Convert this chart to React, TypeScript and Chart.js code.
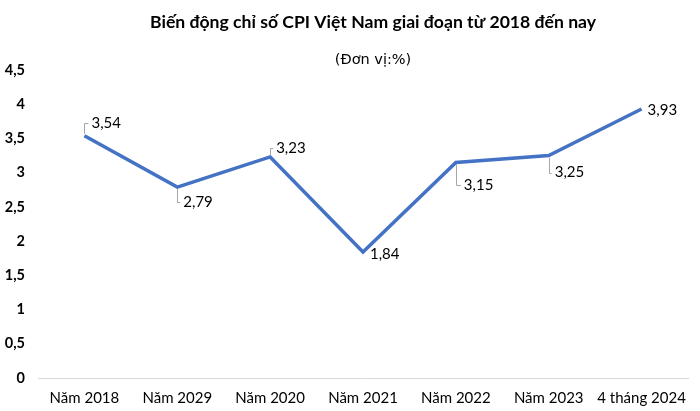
import React, { useEffect, useRef } from "react";
import { Chart, registerables } from "chart.js";

Chart.register(...registerables);

const categories = ["Năm 2018", "Năm 2029", "Năm 2020", "Năm 2021", "Năm 2022", "Năm 2023", "4 tháng 2024"];
const cpiValues = [3.54, 2.79, 3.23, 1.84, 3.15, 3.25, 3.93];
const titleText = "Biến động chỉ số CPI Việt Nam giai đoạn từ 2018 đến nay";
const subtitleText = "(Đơn vị:%)";

const labelOffsets: [number, number][] = [[7, -13], [6, 15], [6, -9], [7, 2], [8, 23], [6, 17], [6, 1]];
const labelLeaders = [true, true, true, false, true, true, false];

const FONT = "Lato, 'Open Sans', sans-serif";

const titlePlugin = {
  id: "customTitle",
  afterDraw(chart: any) {
    const { ctx, chartArea } = chart;
    const cx = (chartArea.left + chartArea.right) / 2 + 10;
    ctx.save();
    ctx.fillStyle = "#000";
    ctx.textAlign = "center";
    ctx.textBaseline = "middle";
    ctx.font = `bold 17.6px ${FONT}`;
    ctx.fillText(titleText, cx, 22);
    ctx.font = `14.5px 'DejaVu Sans', sans-serif`;
    ctx.fillText(subtitleText, cx, 60);
    ctx.restore();
  },
};

const labelPlugin = {
  id: "pointLabels",
  afterDatasetsDraw(chart: any) {
    const { ctx } = chart;
    const meta = chart.getDatasetMeta(0);
    ctx.save();
    ctx.font = `15px ${FONT}`;
    ctx.textBaseline = "middle";
    ctx.textAlign = "left";
    meta.data.forEach((pt: any, i: number) => {
      const [dx, dy] = labelOffsets[i];
      const x = pt.x;
      const y = pt.y;
      if (labelLeaders[i]) {
        const s = dy < 0 ? -1 : 1;
        ctx.strokeStyle = "#a6a6a6";
        ctx.lineWidth = 1;
        ctx.beginPath();
        ctx.moveTo(Math.round(x) + 0.5, y + s * 2);
        ctx.lineTo(Math.round(x) + 0.5, Math.round(y + dy) + 0.5);
        ctx.lineTo(x + dx - 3, Math.round(y + dy) + 0.5);
        ctx.stroke();
      }
      ctx.fillStyle = "#000";
      ctx.fillText(String(cpiValues[i]).replace(".", ","), x + dx, y + dy);
    });
    ctx.restore();
  },
};

export default function App() {
  const ref = useRef<HTMLCanvasElement | null>(null);
  useEffect(() => {
    if (!ref.current) return;
    const chart = new Chart(ref.current, {
      type: "line",
      data: {
        labels: categories,
        datasets: [
          {
            data: cpiValues,
            borderColor: "#4472C4",
            borderWidth: 3.5,
            pointRadius: 0,
            pointHoverRadius: 0,
            tension: 0,
            fill: false,
          },
        ],
      },
      options: {
        animation: false,
        responsive: false,
        events: [],
        layout: { padding: { top: 70, left: 0, right: 12, bottom: 0 } },
        plugins: {
          legend: { display: false },
          tooltip: { enabled: false },
          title: { display: false },
        },
        scales: {
          x: {
            offset: true,
            grid: { display: false, drawTicks: false },
            border: { display: true, color: "#d9d9d9", width: 1 },
            afterFit: (scale: any) => {
              scale.height = 33;
            },
            ticks: {
              color: "#000",
              font: { family: FONT, size: 15 },
              padding: 11,
              maxRotation: 0,
              autoSkip: false,
            },
          },
          y: {
            min: 0,
            max: 4.5,
            grid: { display: false, drawTicks: false },
            border: { display: false },
            afterFit: (scale: any) => {
              scale.width = 38;
            },
            ticks: {
              stepSize: 0.5,
              color: "#000",
              padding: 13,
              font: { family: FONT, size: 14.5, weight: "bold" },
              callback: (v: any) => String(v).replace(".", ","),
            },
          },
        },
      },
      plugins: [titlePlugin, labelPlugin],
    });
    return () => chart.destroy();
  }, []);
  return (
    <div style={{ position: "fixed", left: 0, top: 0, width: 700, height: 411, background: "#fff" }}>
      <canvas ref={ref} width={700} height={411} style={{ width: 700, height: 411 }} />
    </div>
  );
}
